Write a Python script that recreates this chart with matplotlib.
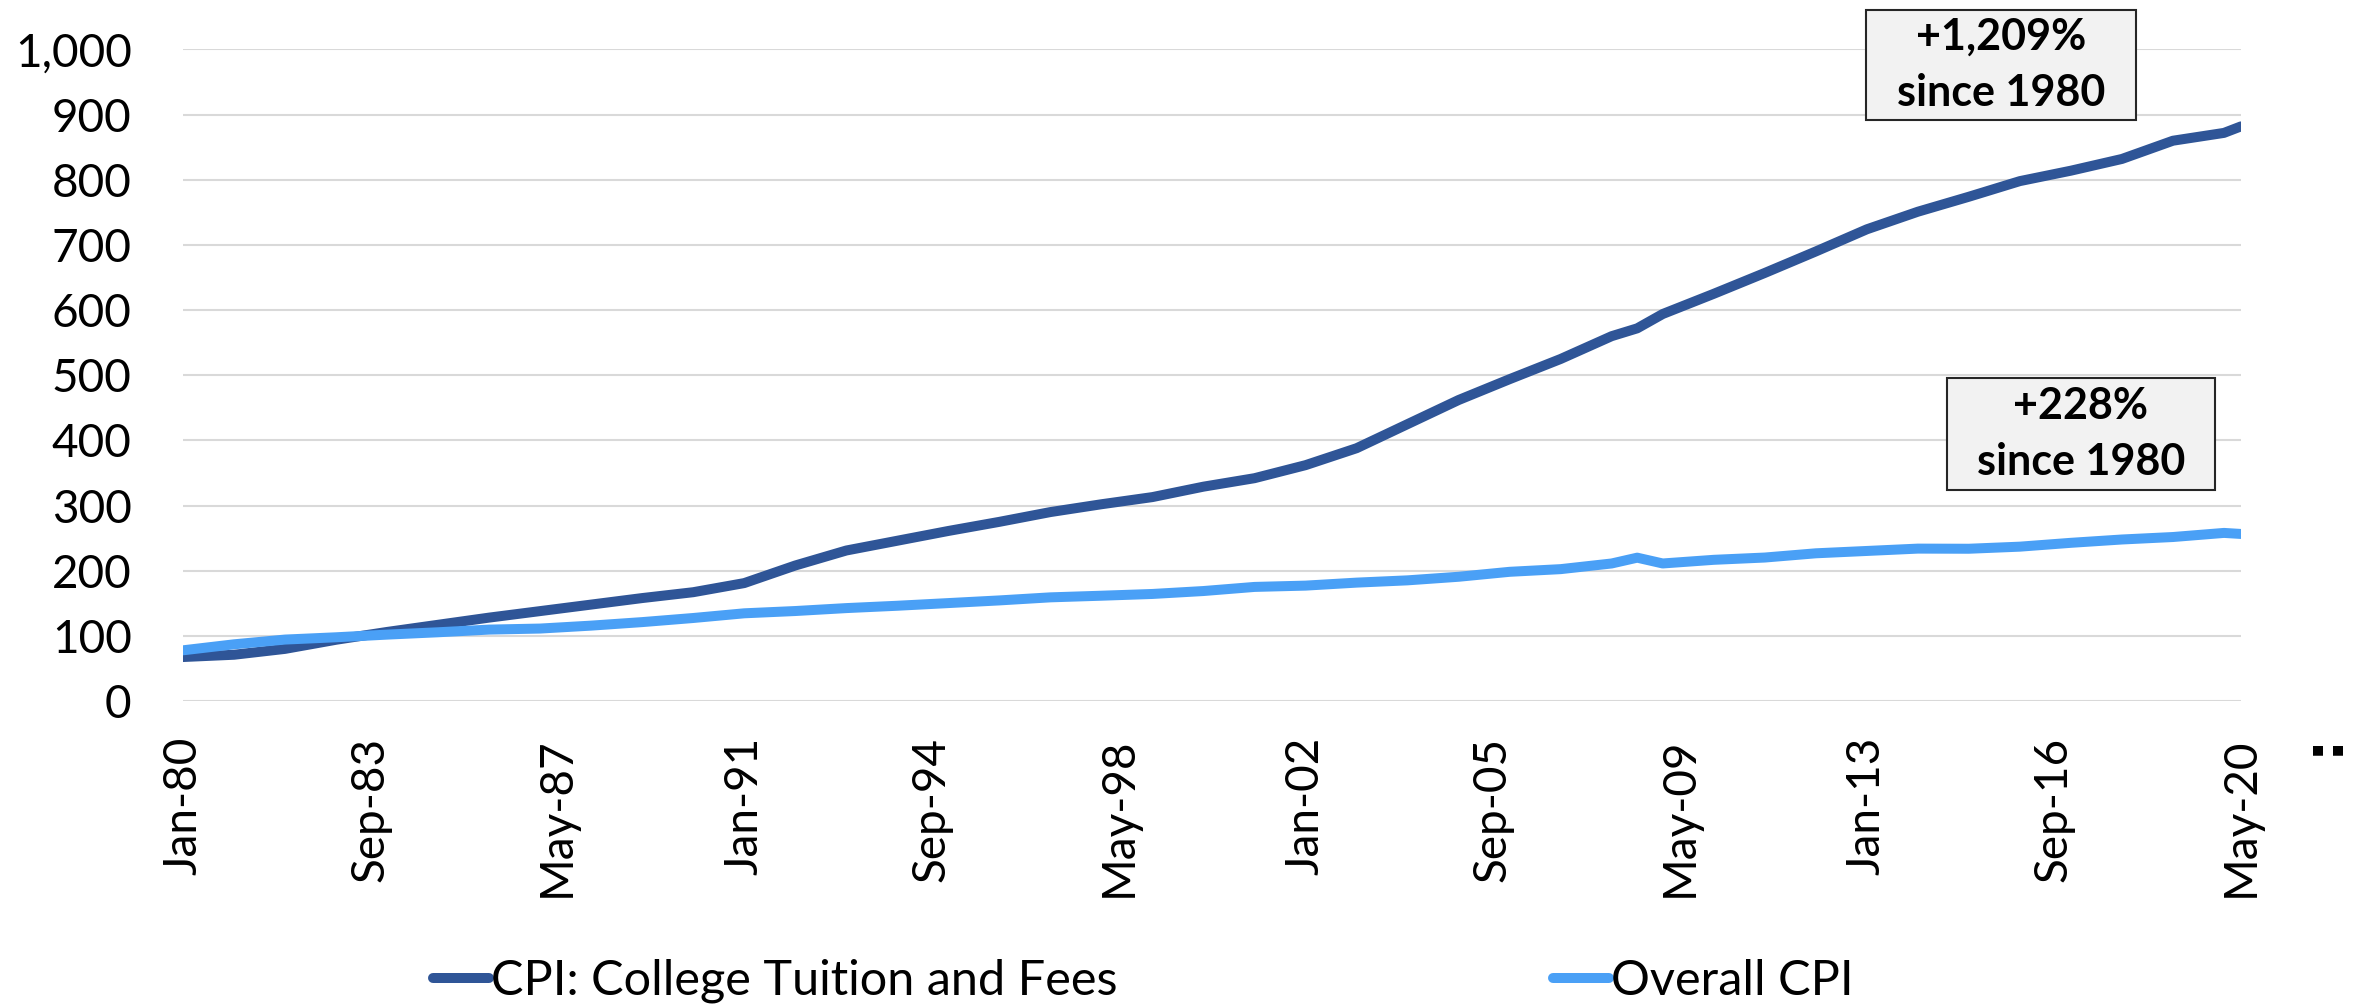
import matplotlib
matplotlib.use("Agg")
import matplotlib.pyplot as plt
from matplotlib.patches import Rectangle
import pandas as pd

# ---------------- data ----------------
dates = ["1980-01", "1981-01", "1982-01", "1983-01", "1984-01", "1985-01", "1986-01",
         "1987-01", "1988-01", "1989-01", "1990-01", "1991-01", "1992-01", "1993-01",
         "1994-01", "1995-01", "1996-01", "1997-01", "1998-01", "1999-01", "2000-01",
         "2001-01", "2002-01", "2003-01", "2004-01", "2005-01", "2006-01", "2007-01",
         "2008-01", "2008-07", "2009-01", "2010-01", "2011-01", "2012-01", "2013-01",
         "2014-01", "2015-01", "2016-01", "2017-01", "2018-01", "2019-01", "2020-01",
         "2020-05"]
tuition = [67.5, 71, 80, 94, 106, 117, 128, 138, 148, 158,
           167, 181, 208, 231, 246, 261, 275, 290, 302, 313,
           329, 342, 362, 388, 425, 462, 494, 525, 560, 572,
           594, 625, 657, 690, 724, 751, 774, 798, 814, 832,
           860, 872, 882]
overall_cpi = [77.8, 87.0, 94.3, 97.8, 101.9, 105.5, 109.6, 111.2, 115.7, 121.1,
               127.4, 134.6, 138.1, 142.6, 146.2, 150.3, 154.4, 159.1, 161.6, 164.3,
               168.8, 175.1, 177.1, 181.7, 185.2, 190.7, 198.3, 202.4, 211.1, 220.0,
               211.1, 216.7, 220.2, 226.7, 230.3, 233.9, 233.7, 236.9, 242.8, 247.9,
               251.7, 258.0, 256.4]
series_names = ["CPI: College Tuition and Fees", "Overall CPI"]
annotation_texts = ["+1,209%\nsince 1980", "+228%\nsince 1980"]
y_ticks = [0, 100, 200, 300, 400, 500, 600, 700, 800, 900, 1000]
first_month, last_month = "1980-01", "2020-05"
tick_step = 44

# ---------------- styling ----------------
FONT = ["Lato", "DejaVu Sans"]
plt.rcParams["font.family"] = FONT
DARK = "#2F5597"
LIGHT = "#4AA0F6"
GRID = "#D9D9D9"

W, H = 2359, 1005
fig = plt.figure(figsize=(W / 100, H / 100), dpi=100)
ax = fig.add_axes([183 / W, 1 - 701 / H, (2241 - 183) / W, (701 - 49.5) / H])

per = pd.PeriodIndex(dates, freq="M")
x = [(p.year - 1980) * 12 + p.month - 1 for p in per]
all_months = pd.period_range(first_month, last_month, freq="M")
n = len(all_months)

l1, = ax.plot(x, tuition, color=DARK, lw=7.2, solid_capstyle="round",
              solid_joinstyle="round", label=series_names[0], zorder=3)
l2, = ax.plot(x, overall_cpi, color=LIGHT, lw=7.2, solid_capstyle="round",
              solid_joinstyle="round", label=series_names[1], zorder=4)

ax.set_xlim(0, n - 1)
ax.set_ylim(0, 1000)
ax.set_yticks(y_ticks)
ax.set_yticklabels([f"{v:,}" for v in y_ticks])
tick_pos = list(range(0, n, tick_step))
ax.set_xticks(tick_pos)
ax.set_xticklabels([all_months[i].strftime("%b-%y") for i in tick_pos], rotation=90)

ax.tick_params(axis="both", length=0, labelsize=33, colors="black")
ax.tick_params(axis="y", pad=37)
ax.tick_params(axis="x", pad=26)
for s in ax.spines.values():
    s.set_visible(False)
ax.yaxis.grid(True, color=GRID, lw=1.5, zorder=0)
ax.set_axisbelow(True)

# annotation boxes
boxes = [(0.8178, 0.8918, 0.9490, 1.0606), (0.8571, 0.3239, 0.9874, 0.4958)]
for (x0, y0, x1, y1), txt in zip(boxes, annotation_texts):
    r = Rectangle((x0, y0), x1 - x0, y1 - y0, transform=ax.transAxes,
                  facecolor="#F2F2F2", edgecolor="#262626", lw=1.5,
                  zorder=5, clip_on=False)
    ax.add_patch(r)
    ax.text((x0 + x1) / 2, (y0 + y1) / 2, txt, transform=ax.transAxes,
            ha="center", va="center", fontsize=31, fontweight="bold",
            linespacing=1.5, zorder=6, clip_on=False)

# legend
fig.legend(handles=[l1, l2], loc="center left", bbox_to_anchor=(433 / W, 1 - 981 / H),
           ncol=2, frameon=False, fontsize=35, handlelength=1.15, handletextpad=0.05,
           columnspacing=8.95, borderpad=0, borderaxespad=0)

# stray colon at right of axis labels
fig.text(2323 / W, 1 - 744 / H, ":", rotation=90, ha="center", va="center",
         fontsize=40, fontweight="heavy", family=["DejaVu Sans"])

fig.savefig("out.png", dpi=100, facecolor="white")
